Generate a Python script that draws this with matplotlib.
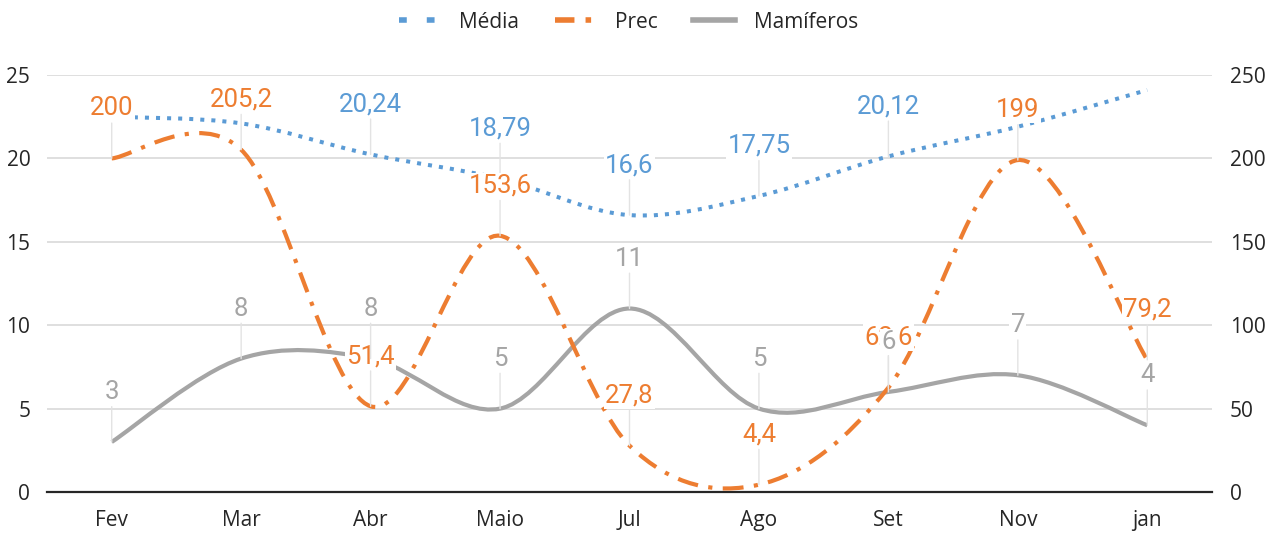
import matplotlib
matplotlib.use('Agg')
import matplotlib.pyplot as plt
import numpy as np
from matplotlib.path import Path
from matplotlib.patches import PathPatch
from matplotlib.lines import Line2D

# dados
meses = ['Fev', 'Mar', 'Abr', 'Maio', 'Jul', 'Ago', 'Set', 'Nov', 'jan']
media = [22.5, 22.1, 20.24, 18.79, 16.6, 17.75, 20.12, 21.9, 24.1]
prec = [200, 205.2, 51.4, 153.6, 27.8, 4.4, 62.6, 199, 79.2]
mamiferos = [3, 8, 8, 5, 11, 5, 6, 7, 4]
# rótulos visíveis (os outros foram apagados no original)
media_rotulos = [None, None, '20,24', '18,79', '16,6', '17,75', '20,12', None, None]
prec_rotulos = ['200', '205,2', '51,4', '153,6', '27,8', '4,4', '62,6', '199', '79,2']
mam_rotulos = [str(v) for v in mamiferos]

azul = '#5B9BD5'
laranja = '#ED7D31'
cinza = '#A5A5A5'
texto = '#262626'


def curva_suave(xs, ys):
    # curva suavizada tipo Excel (bezier cúbica, catmull-rom)
    p = np.column_stack([xs, ys]).astype(float)
    n = len(p)
    verts = [p[0]]
    codes = [Path.MOVETO]
    for i in range(n - 1):
        ant = p[i - 1] if i > 0 else p[i]
        prox = p[i + 2] if i + 2 < n else p[i + 1]
        verts += [p[i] + (p[i + 1] - ant) / 6, p[i + 1] - (prox - p[i]) / 6, p[i + 1]]
        codes += [Path.CURVE4] * 3
    return Path(verts, codes)


x = np.arange(len(meses))

fig = plt.figure(figsize=(12.77, 5.33), dpi=100)
ax1 = fig.add_axes([0.0368, 0.0769, 0.9123, 0.7824])
ax2 = ax1.twinx()

ax1.set_xlim(-0.5, len(meses) - 0.5)
ax1.set_ylim(0, 25)
ax2.set_ylim(0, 250)
ax1.set_yticks([0, 5, 10, 15, 20, 25])
ax2.set_yticks([0, 50, 100, 150, 200, 250])
ax1.set_xticks(x)
ax1.set_xticklabels(meses)

for ax in (ax1, ax2):
    for s in ['left', 'right', 'top']:
        ax.spines[s].set_visible(False)
    ax.tick_params(length=0, labelsize=15, colors=texto)
    for t in ax.get_xticklabels() + ax.get_yticklabels():
        t.set_family('Open Sans')
ax2.spines['bottom'].set_visible(False)
ax1.spines['bottom'].set_color('#262626')
ax1.spines['bottom'].set_linewidth(1.6)
ax1.tick_params(axis='x', pad=13)
ax1.tick_params(axis='y', pad=12)
ax2.tick_params(axis='y', pad=13)
ax1.grid(axis='y', color='#d9d9d9', lw=1.2)
ax1.set_axisbelow(True)
ax2.patch.set_visible(False)

# linhas
ax1.add_patch(PathPatch(curva_suave(x, media), fill=False, ec=azul, lw=2.9,
                        ls=(0, (1, 1.75)), capstyle='butt', zorder=2))
ax1.add_patch(PathPatch(curva_suave(x, mamiferos), fill=False, ec=cinza, lw=3,
                        capstyle='butt', zorder=3))
ax2.add_patch(PathPatch(curva_suave(x, prec), fill=False, ec=laranja, lw=3,
                        ls=(0, (5, 2.5, 1, 2.5)), capstyle='butt', zorder=4))


def rotular(valores, rotulos, cor, trans, z):
    for xi, v, r in zip(x, valores, rotulos):
        if r is None:
            continue
        ax2.annotate(r, (xi, v), xycoords=trans, xytext=(0, 36),
                     textcoords='offset points', ha='center', va='center',
                     fontsize=18.5, family='Roboto', color=cor, zorder=z,
                     bbox=dict(boxstyle='square,pad=0.05', fc='white', ec='none'),
                     arrowprops=dict(arrowstyle='-', color='#e3e3e3', lw=1,
                                     shrinkA=1, shrinkB=0))


rotular(media, media_rotulos, azul, ax1.transData, 10)
rotular(prec, prec_rotulos, laranja, ax2.transData, 11)
rotular(mamiferos, mam_rotulos, cinza, ax1.transData, 12)

# legenda
handles = [
    Line2D([], [], color=azul, lw=4, ls=(0, (1.4, 3.6)), dash_capstyle='butt'),
    Line2D([], [], color=laranja, lw=4, ls=(0, (3.5, 2, 1, 2)), dash_capstyle='butt'),
    Line2D([], [], color=cinza, lw=4),
]
fig.legend(handles, ['Média', 'Prec', 'Mamíferos'], loc='center',
           bbox_to_anchor=(0.492, 0.9587), ncol=3, frameon=False,
           prop={'family': 'Open Sans', 'size': 15}, labelcolor=texto,
           handlelength=2.0, handletextpad=0.9, columnspacing=1.7)

fig.savefig('out.png', dpi=100)
